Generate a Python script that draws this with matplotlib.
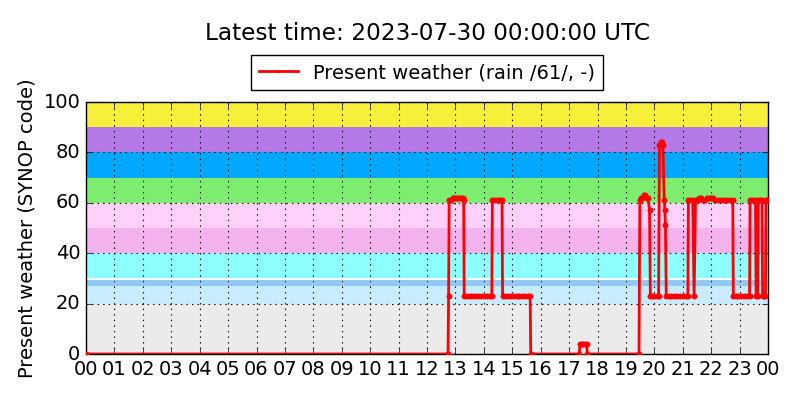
import numpy as np
import matplotlib
matplotlib.use('Agg')
import matplotlib.pyplot as plt

# present weather code (SYNOP) vs hour of day
hours = [0, 12.74, 12.76,
         12.78, 12.85, 12.9, 12.95, 13.0, 13.05, 13.1, 13.15, 13.2, 13.25, 13.29,
         13.31, 13.4, 13.5, 13.6, 13.7, 13.8, 13.9, 14.0, 14.1, 14.2, 14.28,
         14.3, 14.4, 14.5, 14.58, 14.64,
         14.66, 14.75, 14.85, 14.95, 15.05, 15.15, 15.25, 15.35, 15.45, 15.55, 15.63,
         15.65, 17.36,
         17.38, 17.45, 17.5, 17.56, 17.62,
         17.64, 19.46,
         19.49, 19.52, 19.58, 19.63, 19.68, 19.73, 19.78, 19.83,
         19.86, 19.93, 20.0, 20.08, 20.15,
         20.18, 20.22, 20.26, 20.3, 20.35, 20.37, 20.39,
         20.42, 20.5, 20.6, 20.7, 20.8, 20.9, 21.0, 21.1, 21.18,
         21.2, 21.27, 21.35, 21.4,
         21.45, 21.52, 21.58, 21.65, 21.72, 21.8, 21.87, 21.93, 22.0, 22.07,
         22.15, 22.25, 22.35, 22.45, 22.55, 22.65, 22.76,
         22.78, 22.86, 22.95, 23.05, 23.15, 23.25, 23.35,
         23.37, 23.45, 23.56, 23.58, 23.64, 23.66, 23.72, 23.79, 23.81, 23.86,
         23.91, 23.93, 23.97, 24.0]
codes = [0, 0, 23,
         61, 61, 62, 62, 62, 62, 62, 62, 62, 62, 61,
         23, 23, 23, 23, 23, 23, 23, 23, 23, 23, 23,
         61, 61, 61, 61, 61,
         23, 23, 23, 23, 23, 23, 23, 23, 23, 23, 23,
         0, 0,
         4, 4, 4, 4, 4,
         0, 0,
         61, 62, 62, 63, 63, 62, 62, 57,
         23, 23, 23, 23, 23,
         83, 84, 84, 83, 61, 57, 51,
         23, 23, 23, 23, 23, 23, 23, 23, 23,
         61, 61, 61, 23,
         61, 61, 62, 62, 61, 61, 62, 62, 62, 62,
         61, 61, 61, 61, 61, 61, 61,
         23, 23, 23, 23, 23, 23, 23,
         61, 61, 61, 23, 23, 61, 61, 61, 23, 23,
         23, 61, 61, 61]

# background bands for code groups
band_lo = [0, 20, 27, 30, 40, 50, 60, 70, 80, 90]
band_hi = [20, 27, 29.5, 40, 50, 60, 70, 80, 90, 100]
band_col = ['#ebebeb', '#c8ecfd', '#8fcbf5', '#8effff', '#f5b3ee',
            '#ffd0f9', '#7ded6f', '#00a9ff', '#b57ae8', '#f7f03a']

tick_labels = ['%02d' % (h % 24) for h in range(25)]

plt.style.use('classic')
plt.rcParams['figure.facecolor'] = 'white'

fig = plt.figure(figsize=(8, 4), dpi=100)
ax = fig.add_axes([0.1075, 0.115, 0.8525, 0.63])

for lo, hi, c in zip(band_lo, band_hi, band_col):
    ax.axhspan(lo, hi, color=c, lw=0, zorder=0)

ax.plot(hours, codes, color='r', lw=2, marker='.', ms=7.5, mec='r',
        label='Present weather (rain /61/, -)', zorder=3)

ax.set_xlim(0, 24)
ax.set_ylim(0, 100)
ax.set_xticks(range(25))
ax.set_xticklabels(tick_labels, fontsize=14)
ax.set_yticks(range(0, 101, 20))
ax.tick_params(axis='y', labelsize=14)
ax.grid(True, linestyle=':', color='k', lw=0.8, zorder=1)
ax.set_axisbelow(False)
ax.set_ylabel('Present weather (SYNOP code)', fontsize=14)

ax.text(0.5, 1.27, 'Latest time: 2023-07-30 00:00:00 UTC', fontsize=16.7,
        ha='center', va='center', transform=ax.transAxes)
ax.legend(loc='center', bbox_to_anchor=(0.5, 1.117), fontsize=14,
          numpoints=1, markerscale=0.5)

fig.savefig('out.png', dpi=100)
